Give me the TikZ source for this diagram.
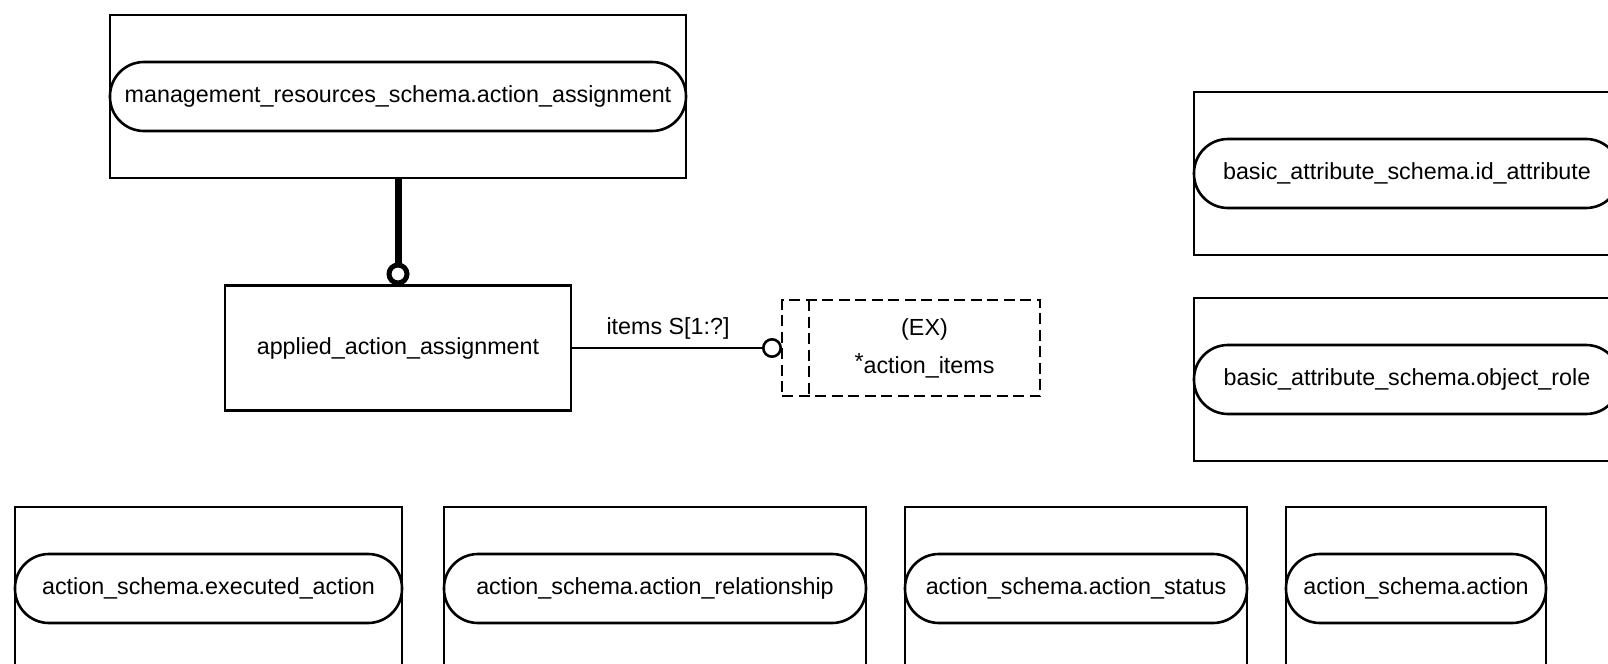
\documentclass[tikz,border=0pt]{standalone}
\usepackage{fontspec}
\setmainfont{Liberation Sans}
\usetikzlibrary{arrows.meta,positioning}
\newcommand{\entityfont}{\fontsize{11.65pt}{14pt}\selectfont}
\tikzstyle{schemabox} = [draw, line width=1.3pt, minimum height=81.5pt, inner sep=0pt, outer sep=0pt, anchor=north west]
\tikzstyle{schemaname} = [draw, line width=1.3pt, rounded corners=17pt, minimum height=34.5pt, inner sep=0pt, outer sep=0pt, anchor=west, font=\entityfont]
\tikzstyle{entity} = [draw, line width=1.3pt, minimum width=173pt, minimum height=62.5pt, inner sep=0pt, outer sep=0pt, font=\entityfont]
\tikzstyle{selectbox} = [draw, line width=1.2pt, dash pattern=on 5.5pt off 2.75pt, minimum width=129pt, minimum height=48pt, inner sep=0pt, outer sep=0pt]
\tikzstyle{selectline} = [draw, line width=1.2pt, dash pattern=on 5.5pt off 2.75pt]
\tikzstyle{line} = [draw, line width=1.3pt, -{Circle[open, length=10pt, line width=1.3pt]}]
\tikzstyle{thickline} = [draw, line width=3.5pt, -{Circle[open, length=11.5pt, line width=2.5pt]}]
\newcommand{\schemaref}[4]{node (s#1) [schemabox, minimum width=#2] {} node (n#1) [schemaname, minimum width=#3] at (s#1.west) {#4}}

\begin{document}
\begin{tikzpicture}[x=0.5pt, y=-0.5pt]
\useasboundingbox (0,0) rectangle (1608,664);
\clip (0,0) rectangle (1608,664);
% referenced schemas
\path (110,15) \schemaref{1}{288pt}{288pt}{management\_resources\_schema.action\_assignment};
\path (1194,92) \schemaref{2}{230pt}{213pt}{basic\_attribute\_schema.id\_attribute};
\path (1194,298) \schemaref{3}{230pt}{213pt}{basic\_attribute\_schema.object\_role};
\path (15,507) \schemaref{4}{193.5pt}{193.5pt}{action\_schema.executed\_action};
\path (444,507) \schemaref{5}{211pt}{211pt}{action\_schema.action\_relationship};
\path (905,507) \schemaref{6}{171pt}{171pt}{action\_schema.action\_status};
\path (1286,507) \schemaref{7}{130pt}{130pt}{action\_schema.action};
% entity and select type
\path (398,348) node (a1) [entity] {applied\_action\_assignment};
\path (911,348) node (x1) [selectbox] {};
\path [selectline] ([xshift=13.5pt]x1.north west) -- ([xshift=13.5pt]x1.south west);
\path ([xshift=6.75pt]x1.center) node (x1t) [align=center, font=\entityfont] {(EX)\\[5pt]\raisebox{2pt}{*}action\_items};
% relations
\path [thickline] (s1.south) -- (a1.north);
\path [line] (a1.east) -- (x1.west) node[pos=0.46, anchor=base, yshift=7pt, font=\entityfont] (l1) {items S[1:?]};
\end{tikzpicture}
\end{document}
